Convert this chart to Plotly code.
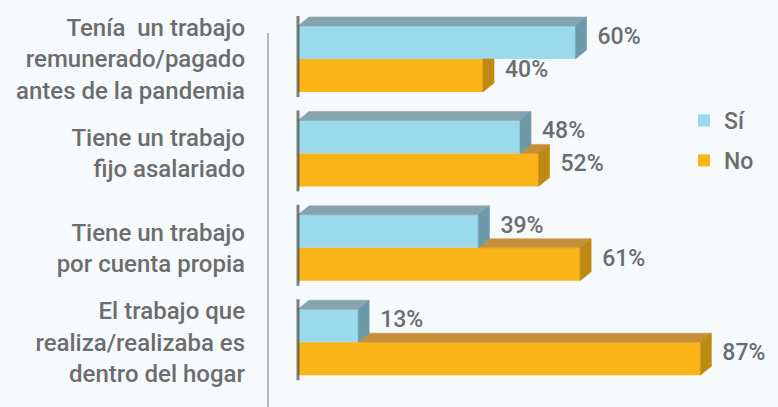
import plotly.graph_objects as go

# ---------------- data ----------------
categories = [
    "Tenía\u00a0 un trabajo<br>remunerado/pagado<br>antes de la pandemia",
    "Tiene un trabajo<br>fijo asalariado",
    "Tiene un trabajo<br>por cuenta propia",
    "El trabajo que<br>realiza/realizaba es<br>dentro del hogar",
]
si_values = [60, 48, 39, 13]
no_values = [40, 52, 61, 87]
series_names = ["Sí", "No"]

# ---------------- geometry / style ----------------
W, H = 778, 407
LEFT = 268
PX_X = 4.625                 # pixels per percentage point
X0 = -30 / PX_X
X1 = X0 + (W - LEFT) / PX_X
PX_Y = 94.4                  # pixels per category slot
Y_TOP = -59 / PX_Y
Y_BOT = Y_TOP + H / PX_Y
BAR_W = 33 / PX_Y
DX = 11 / PX_X               # 3D depth (x)
DY = 9 / PX_Y                # 3D depth (y)
LABEL_PAD = 11 / PX_X

FONT = "Roboto"
TXT = "#6d6d6d"
BG = "#f6fafc"

SI_FRONT, SI_TOP, SI_SIDE = "#9bd9ec", "#86a4ae", "#6b9aa8"
NO_FRONT, NO_TOP, NO_SIDE = "#fbb417", "#c6903a", "#c08a12"

idx = list(range(len(categories)))

fig = go.Figure()

fig.add_trace(go.Bar(
    y=idx, x=si_values, orientation="h", name=series_names[0],
    width=BAR_W, offset=-BAR_W, marker=dict(color=SI_FRONT, line=dict(width=0)),
    legendgroup="si", hoverinfo="skip",
))
fig.add_trace(go.Bar(
    y=idx, x=no_values, orientation="h", name=series_names[1],
    width=BAR_W, offset=0, marker=dict(color=NO_FRONT, line=dict(width=0)),
    legendgroup="no", hoverinfo="skip",
))


def polys_trace(polys, color):
    xs, ys = [], []
    for p in polys:
        for (a, b) in p:
            xs.append(a)
            ys.append(b)
        xs.append(p[0][0]); ys.append(p[0][1])
        xs.append(None); ys.append(None)
    return go.Scatter(x=xs, y=ys, mode="lines", fill="toself", fillcolor=color,
                      line=dict(width=0.6, color=color), showlegend=False,
                      hoverinfo="skip")


si_top, si_side, no_top, no_side, shadow_x, shadow_y = [], [], [], [], [], []
for i, s, n in zip(idx, si_values, no_values):
    t = i - BAR_W
    si_top.append([(0, t), (s, t), (s + DX, t - DY), (DX, t - DY)])
    si_side.append([(s, t), (s + DX, t - DY), (s + DX, i - DY), (s, i)])
    if n > s:
        no_top.append([(s, i), (n, i), (n + DX, i - DY), (s + DX, i - DY)])
        no_side.append([(n, i), (n + DX, i - DY), (n + DX, i + BAR_W - DY), (n, i + BAR_W)])
    else:
        no_side.append([(n, i), (n + DX, i), (n + DX, i + BAR_W - DY), (n, i + BAR_W)])
    shadow_x += [0, 0, None]
    shadow_y += [t - DY - 1 / PX_Y, i + BAR_W + 5 / PX_Y, None]

fig.add_trace(polys_trace(no_top, NO_TOP))
fig.add_trace(polys_trace(no_side, NO_SIDE))
fig.add_trace(polys_trace(si_top, SI_TOP))
fig.add_trace(polys_trace(si_side, SI_SIDE))
fig.add_trace(go.Scatter(x=shadow_x, y=shadow_y, mode="lines",
                         line=dict(color="rgba(60,60,60,0.65)", width=3),
                         showlegend=False, hoverinfo="skip"))

# data labels
fig.add_trace(go.Scatter(
    x=[v + DX + LABEL_PAD for v in si_values],
    y=[i - BAR_W / 2 - DY / 2 for i in idx],
    text=[f"{v}%" for v in si_values], mode="text", textposition="middle right",
    textfont=dict(family=FONT, size=23, color=TXT, weight=500),
    showlegend=False, hoverinfo="skip", cliponaxis=False,
))
fig.add_trace(go.Scatter(
    x=[v + DX + LABEL_PAD for v in no_values],
    y=[i + BAR_W / 2 - DY / 2 for i in idx],
    text=[f"{v}%" for v in no_values], mode="text", textposition="middle right",
    textfont=dict(family=FONT, size=23, color=TXT, weight=500),
    showlegend=False, hoverinfo="skip", cliponaxis=False,
))

fig.add_shape(type="line", xref="paper", yref="paper", x0=0, x1=0,
              y0=0, y1=(H - 33) / H, line=dict(color="#a3a3a3", width=1.5))

fig.update_layout(
    width=W, height=H, autosize=False,
    margin=dict(l=LEFT, r=0, t=0, b=0),
    paper_bgcolor=BG, plot_bgcolor=BG,
    barmode="overlay",
    font=dict(family=FONT, color=TXT, size=23),
    xaxis=dict(range=[X0, X1], visible=False, fixedrange=True),
    yaxis=dict(range=[Y_BOT, Y_TOP], tickvals=idx, ticktext=categories,
               showgrid=False, zeroline=False, showline=False, ticks="",
               ticklabelstandoff=22,
               tickfont=dict(family=FONT, size=24, color=TXT, weight=500)),
    legend=dict(x=(684 - LEFT) / (W - LEFT), y=1 - 99 / H, xanchor="left", yanchor="top",
                bgcolor="rgba(0,0,0,0)", tracegroupgap=7,
                font=dict(family=FONT, size=23, color=TXT, weight=500)),
    showlegend=True,
)

fig.write_html("out.html")
